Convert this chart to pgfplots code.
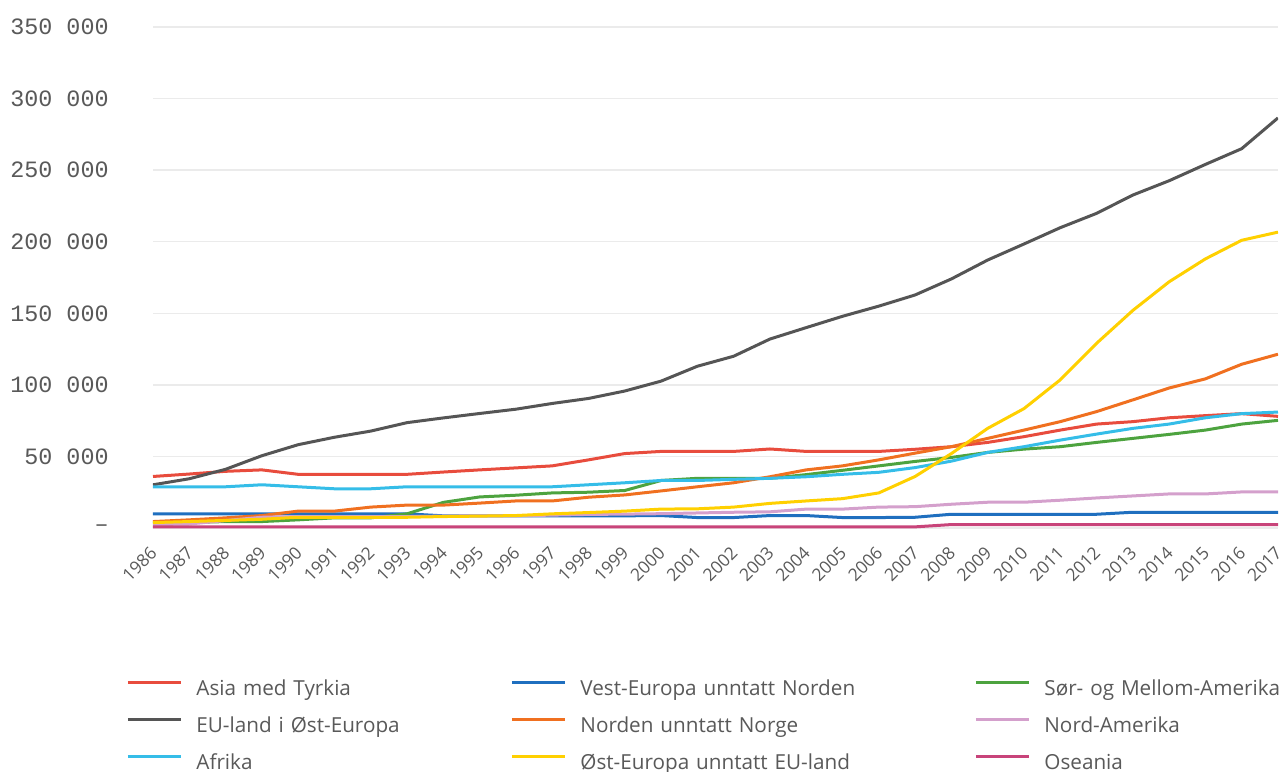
\documentclass[border=0pt]{standalone}
\usepackage{fontspec}
\setmainfont{Open Sans}
\newfontfamily\ymono{Liberation Mono}
\usepackage{pgfplots}
\pgfplotsset{compat=1.18}
\usepackage{pgfplotstable}
\definecolor{textgray}{HTML}{595959}
\definecolor{cAsia}{HTML}{E84C3D}
\definecolor{cVest}{HTML}{1F6FBF}
\definecolor{cSor}{HTML}{4DA33F}
\definecolor{cEU}{HTML}{555555}
\definecolor{cNorden}{HTML}{F07020}
\definecolor{cNordAm}{HTML}{D4A0CC}
\definecolor{cAfrika}{HTML}{35BDE8}
\definecolor{cOstEu}{HTML}{FFD000}
\definecolor{cOseania}{HTML}{C8447A}
\pgfplotstableread{
year asia vest sor eu norden nordam afrika osteu oseania
1986 36000 9900 3300 30200 4500 2400 28800 3800 800
1987 37700 9900 3800 34400 5700 2800 28800 4500 800
1988 39600 9900 4500 41000 7100 5200 28800 5300 800
1989 40600 9900 4500 50500 8700 7500 30200 6100 800
1990 37500 9900 5700 58200 11800 8000 28800 7500 800
1991 37500 9900 7100 63400 11800 8000 27400 7500 800
1992 37500 9900 7100 67700 14600 8000 27400 7500 800
1993 37500 9900 9900 73600 16000 8000 28800 7500 800
1994 39100 8500 17900 76900 16000 8300 28800 8000 800
1995 40600 8500 21700 80000 17400 8500 28800 8300 800
1996 42000 8500 22900 83000 18900 8500 28800 8700 800
1997 43400 8500 24500 87000 18900 9000 28800 9900 800
1998 47600 8500 25000 90500 21500 9500 30200 10800 800
1999 52000 8500 26200 95700 23100 9700 31600 11800 800
2000 53500 8700 33200 102600 25900 10000 33200 13200 800
2001 53500 7300 34700 113000 28800 10500 33200 13400 800
2002 53500 7300 34700 120000 31600 11000 34000 14600 800
2003 55200 8700 34700 132000 35800 11300 34700 17200 800
2004 53500 8700 37300 140000 40600 13200 35800 18900 800
2005 53500 7300 40300 147900 43400 13200 37500 20500 800
2006 53500 7300 43400 155000 47600 14600 38900 24500 800
2007 55000 7500 46500 162800 52300 14900 42200 36000 800
2008 56800 9600 49300 174000 56800 16600 46700 52000 2400
2009 59800 9600 52800 187200 62600 18000 52800 69600 2400
2010 63800 9600 55100 198400 68400 18000 56800 83400 2400
2011 68400 9600 56800 209800 74300 19400 61400 103500 2400
2012 72600 9600 59800 219800 81300 21000 65600 129000 2400
2013 74300 11000 62600 232600 89500 22400 69600 152000 2400
2014 77000 11000 65400 242600 97800 23800 72600 172000 2400
2015 78500 11000 68400 254000 104200 23800 77000 188000 2400
2016 79900 11000 72600 265000 114400 25200 79900 201000 2400
2017 78000 11000 75200 286500 121400 25200 81000 206700 2400
}\data
\begin{document}
\begin{tikzpicture}
\path[use as bounding box] (-76.5pt,-122pt) rectangle (564.5pt,264pt);
\begin{axis}[
  at={(0pt,0pt)}, anchor=south west,
  scale only axis, width=562.5pt, height=250.5pt,
  xmin=1986, xmax=2017, ymin=0, ymax=350000,
  scaled y ticks=false,
  xtick={1986,...,2017},
  ytick={0,50000,100000,150000,200000,250000,300000,350000},
  yticklabels={–,50 000,100 000,150 000,200 000,250 000,300 000,350 000},
  axis line style={draw=none}, major tick style={draw=none},
  ymajorgrids, grid style={color=black!8, line width=0.75pt},
  /pgf/number format/assume math mode=true, /pgf/number format/1000 sep={},
  xticklabel style={rotate=45, anchor=north east, font=\fontsize{8.7}{10}\selectfont, text=textgray, inner sep=0pt, yshift=-4.5pt, xshift=-7.25pt},
  yticklabel style={font=\ymono\fontsize{11.7}{13}\selectfont, text=textgray, anchor=east, inner sep=0pt, xshift=-22pt},
  legend columns=3,
  legend cell align=left,
  legend style={at={(axis description cs:0,0)}, anchor=north west, xshift=-13.5pt, yshift=-71.5pt,
    draw=none, fill=none, font=\fontsize{10.35}{12}\selectfont, text=textgray,
    column sep=0pt, row sep=0pt, inner sep=0pt,
    nodes={inner sep=0pt, text height=12pt, text depth=6.5pt}},
  legend image code/.code={\draw[#1, line width=1.5pt] (0pt,3.5pt) -- (26.5pt,3.5pt); \path (33.5pt,0pt);},
  every axis plot/.append style={line width=1.5pt, mark=none},
]
\addplot[color=cAsia] table[x=year,y=asia]{\data};
\addlegendentry[text width=157pt]{Asia med Tyrkia}
\addplot[color=cVest] table[x=year,y=vest]{\data};
\addlegendentry[text width=197pt]{Vest-Europa unntatt Norden}
\addplot[color=cSor] table[x=year,y=sor]{\data};
\addlegendentry[text width=140pt]{Sør- og Mellom-Amerika}
\addplot[color=cEU] table[x=year,y=eu]{\data};
\addlegendentry[text width=157pt]{EU-land i Øst-Europa}
\addplot[color=cNorden] table[x=year,y=norden]{\data};
\addlegendentry[text width=197pt]{Norden unntatt Norge}
\addplot[color=cNordAm] table[x=year,y=nordam]{\data};
\addlegendentry[text width=140pt]{Nord-Amerika}
\addplot[color=cAfrika] table[x=year,y=afrika]{\data};
\addlegendentry[text width=157pt]{Afrika}
\addplot[color=cOstEu] table[x=year,y=osteu]{\data};
\addlegendentry[text width=197pt]{Øst-Europa unntatt EU-land}
\addplot[color=cOseania] table[x=year,y=oseania]{\data};
\addlegendentry[text width=140pt]{Oseania}
\end{axis}
\end{tikzpicture}
\end{document}
